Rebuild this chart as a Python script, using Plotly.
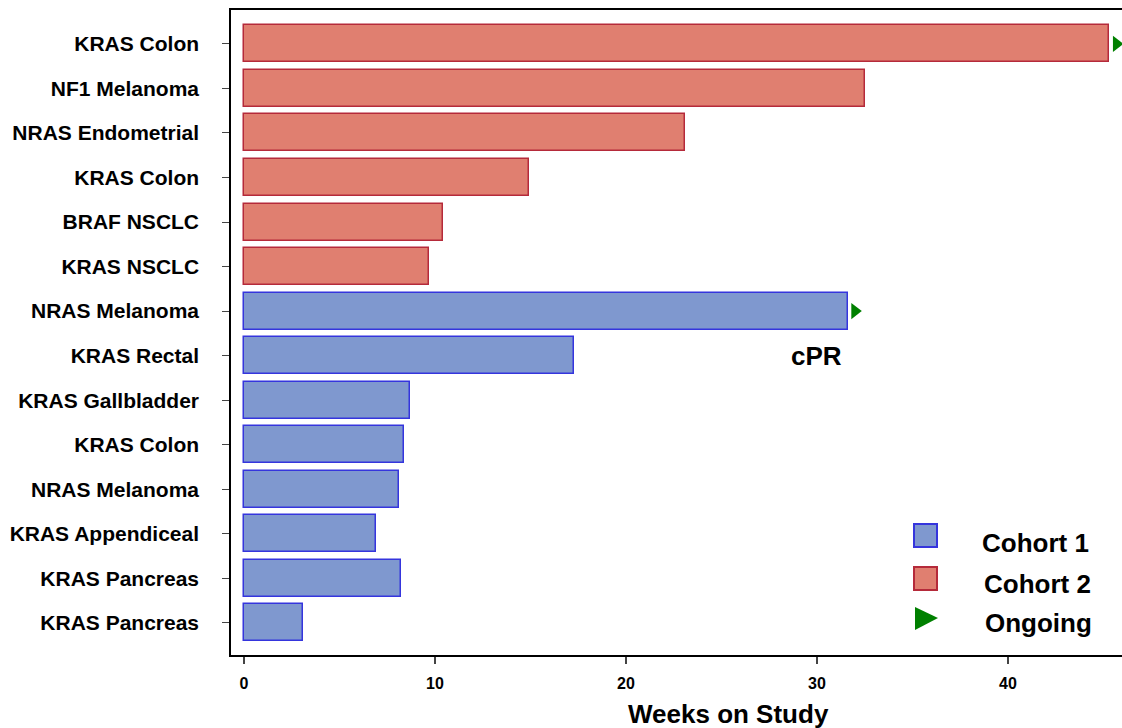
import plotly.graph_objects as go

labels = ["KRAS Colon", "NF1 Melanoma", "NRAS Endometrial", "KRAS Colon", "BRAF NSCLC",
          "KRAS NSCLC", "NRAS Melanoma", "KRAS Rectal", "KRAS Gallbladder", "KRAS Colon",
          "NRAS Melanoma", "KRAS Appendiceal", "KRAS Pancreas", "KRAS Pancreas"]
weeks = [45.3, 32.5, 23.1, 14.9, 10.4, 9.7, 31.6, 17.3, 8.7, 8.4, 8.1, 6.9, 8.2, 3.1]
cohort = [2, 2, 2, 2, 2, 2, 1, 1, 1, 1, 1, 1, 1, 1]
ongoing = [True, False, False, False, False, False, True, False, False, False, False, False, False, False]
x_ticks = [0, 10, 20, 30, 40]

FONT = "Arial, Liberation Sans, sans-serif"
fill = {1: "#7F98CF", 2: "#E07F70"}
edge = {1: "#3535DD", 2: "#B52A3A"}

pos = list(range(len(labels)))
fig = go.Figure()
for c in (1, 2):
    idx = [i for i in pos if cohort[i] == c]
    fig.add_trace(go.Bar(
        x=[weeks[i] for i in idx], y=idx, base=0, orientation="h", width=0.83,
        marker=dict(color=fill[c], line=dict(color=edge[c], width=1.5)),
        showlegend=False, hoverinfo="x"))

og = [i for i in pos if ongoing[i]]
fig.add_trace(go.Scatter(
    x=[weeks[i] + 0.38 for i in og], y=og, mode="markers",
    marker=dict(symbol="triangle-right", size=14, color="#008000"),
    showlegend=False, cliponaxis=False))

fig.add_annotation(x=30, y=7, text="<b>cPR</b>", showarrow=False,
                   font=dict(family=FONT, size=26, color="black"), xanchor="center", yanchor="middle")

W, H = 1122, 728
L, T = 231, 10
BOT = 655
B = H - BOT
pw, ph = W - L, BOT - T
def px(x): return (x - L) / pw
def py(y): return (BOT - y) / ph

fig.add_annotation(x=px(728), y=py(714), xref="paper", yref="paper", text="<b>Weeks on Study</b>",
                   showarrow=False, font=dict(family=FONT, size=26, color="black"),
                   xanchor="center", yanchor="middle")

fig.add_shape(type="rect", xref="paper", yref="paper", x0=px(914), x1=px(937), y0=py(547), y1=py(524),
              fillcolor=fill[1], line=dict(color=edge[1], width=2))
fig.add_shape(type="rect", xref="paper", yref="paper", x0=px(914), x1=px(937), y0=py(590), y1=py(567),
              fillcolor=fill[2], line=dict(color=edge[2], width=2))
fig.add_shape(type="path", xref="paper", yref="paper",
              path=f"M {px(915)},{py(607)} L {px(938)},{py(618)} L {px(915)},{py(630)} Z",
              fillcolor="#008000", line=dict(color="#008000", width=0))
for txt, xx, yy in [("Cohort 1", 980, 543), ("Cohort 2", 982, 584), ("Ongoing", 983, 623)]:
    fig.add_annotation(x=px(xx), y=py(yy), xref="paper", yref="paper", text=f"<b>{txt}</b>",
                       showarrow=False, xanchor="left", yanchor="middle",
                       font=dict(family=FONT, size=26, color="black"))

fig.update_layout(
    width=W, height=H, margin=dict(l=L, r=0, t=T, b=B),
    plot_bgcolor="white", paper_bgcolor="white", bargap=0,
    font=dict(family=FONT, color="black"),
)
fig.update_xaxes(range=[-0.68, 45.97], tickvals=x_ticks, ticktext=[f"<b>{v}</b>" for v in x_ticks],
                 showline=True, linecolor="black", linewidth=1.5, mirror=True,
                 ticks="outside", ticklen=7, tickcolor="#444", tickwidth=1.5,
                 showgrid=False, zeroline=False, tickfont=dict(size=16, family=FONT, color="black"),
                 ticklabelstandoff=6)
fig.update_yaxes(range=[13.72, -0.76], tickvals=pos, ticktext=[f"<b>{t}</b>" for t in labels],
                 showline=True, linecolor="black", linewidth=1.5, mirror=False,
                 ticks="outside", ticklen=7, tickcolor="#444", tickwidth=1.2,
                 showgrid=False, zeroline=False, tickfont=dict(size=21, family=FONT, color="black"),
                 ticklabelstandoff=19)

fig.write_html("out.html", config={"displayModeBar": False},
               post_script="document.body.style.margin='0';document.body.style.overflow='hidden';")
